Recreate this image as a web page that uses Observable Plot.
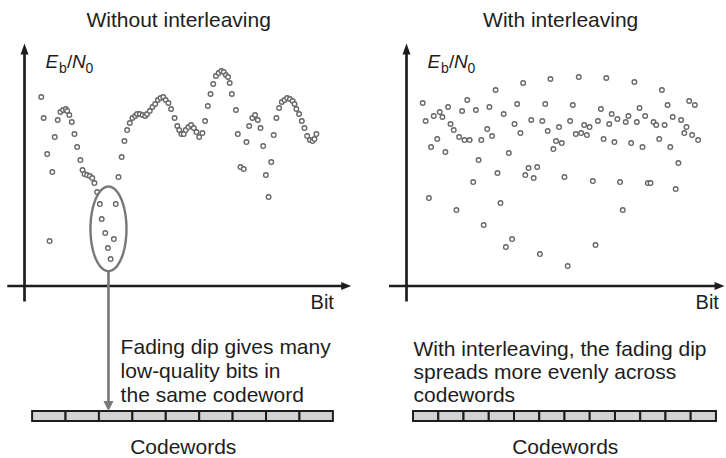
<!DOCTYPE html>
<html>
<head>
<meta charset="utf-8">
<script src="https://cdn.jsdelivr.net/npm/d3@7"></script>
<script src="https://cdn.jsdelivr.net/npm/@observablehq/plot@0.6"></script>
<style>
  html, body { margin: 0; padding: 0; background: #fff; }
  #chart { display: flex; width: 726px; height: 458px; overflow: hidden; }
  #chart svg { flex: none; }
</style>
</head>
<body>
<div id="chart"></div>
<script>
// ---------- data (bit position, Eb/N0 in arbitrary dB units) ----------
const leftBits = [6.2,7.1,8.4,9.3,10.3,11.2,12.3,13.3,14.3,15.3,15.8,16.6,17.5,18.5,19.5,20.7,21.5,22.2,23.2,24.2,25.1,25.9,26.9,27.9,28.6,29.9,30.9,31.9,33.1,33.8,34.8,36.0,37.0,38.0,39.0,40.0,41.0,41.7,42.7,43.7,44.7,45.4,46.4,47.4,48.4,49.4,50.4,51.4,52.3,53.3,54.3,55.6,56.6,57.3,58.1,59.0,59.7,60.7,61.7,62.7,63.7,64.7,65.9,66.9,67.9,68.9,69.9,70.9,71.9,72.9,73.8,74.6,75.4,76.0,76.8,78.3,79.0,80.0,81.2,82.2,83.2,84.4,85.4,86.4,87.4,88.4,89.4,90.4,91.4,92.3,93.3,94.3,95.3,96.3,97.3,98.3,99.3,100.0,100.7,101.7,102.7,103.7,104.7,105.7,106.7,107.4,108.1];
const leftEbN0 = [18.9,16.8,13.2,4.5,11.4,14.9,16.6,17.4,17.6,17.7,17.5,17.1,16.4,15.2,13.9,12.6,11.6,11.2,11.1,11.0,10.8,10.3,9.4,8.2,6.7,5.3,3.8,2.7,4.7,8.2,10.9,12.9,14.5,15.6,16.3,16.8,17.0,17.2,17.2,17.1,17.0,17.2,17.5,17.9,18.2,18.6,18.8,18.9,18.6,18.3,17.7,16.8,16.0,15.6,15.2,15.2,15.6,15.9,16.1,15.8,15.4,14.9,15.3,16.5,18.0,19.2,20.2,21.0,21.3,21.5,21.4,21.1,20.9,20.3,19.2,17.6,15.2,11.9,11.7,14.4,16.0,16.8,17.1,16.6,15.8,14.0,11.1,8.9,12.4,15.1,16.8,17.8,18.4,18.6,18.8,18.7,18.5,18.2,17.7,17.2,16.5,15.8,15.0,14.6,14.5,14.7,15.2];

const rightBits = [6.0,7.1,8.3,9.1,10.1,11.4,12.3,13.3,14.4,15.4,16.3,17.5,18.5,19.5,20.6,21.5,22.5,23.4,24.7,25.7,26.7,27.7,28.6,29.9,30.7,31.7,33.0,33.7,34.8,36.0,36.8,37.9,39.1,40.0,41.0,42.2,43.2,44.0,45.2,46.2,47.1,48.4,49.4,50.3,51.4,52.3,53.3,54.4,55.4,56.5,57.5,58.5,59.7,60.6,61.6,62.7,63.8,64.7,65.8,66.8,67.8,69.0,70.0,70.9,72.0,73.0,74.0,75.1,76.0,77.0,78.1,79.1,80.1,81.2,82.2,83.2,84.4,85.3,86.3,87.4,88.4,89.4,90.4,91.5,92.5,93.6,94.6,95.6,96.7,97.7,98.6,99.7,100.7,101.7,102.9,103.7,104.7,105.8,106.8,108.0];
const rightEbN0 = [18.3,16.5,8.8,13.9,17.0,14.7,17.4,16.9,13.4,17.9,16.2,15.6,7.6,14.9,17.5,14.6,18.6,14.6,10.4,17.6,12.6,14.6,6.1,15.7,17.9,15.0,19.6,11.3,8.3,17.2,3.9,13.3,4.7,16.2,18.2,15.3,20.3,11.1,11.8,16.6,10.8,11.9,3.2,16.5,18.2,15.5,20.7,13.7,14.5,15.9,14.3,10.9,2.0,16.5,18.1,15.2,20.9,15.3,16.1,15.1,15.9,10.5,4.1,16.5,17.7,14.7,20.8,16.2,17.2,14.4,16.7,10.4,7.6,16.4,17.0,14.3,20.4,16.4,17.8,13.9,17.0,10.3,10.3,16.4,16.1,14.7,19.6,16.1,18.1,13.9,16.9,9.7,12.3,16.6,15.3,15.9,18.5,15.1,18.1,14.6];

const panelTitles = ["Without interleaving", "With interleaving"];
const panelNotes = [
  "Fading dip gives many\nlow-quality bits in\nthe same codeword",
  "With interleaving, the fading dip\nspreads more evenly across\ncodewords"
];
const codewordCounts = [9, 12];
const codewordSpans = [[3.0, 114.4], [2.6, 114.8]];   // in bits
const xAxisLabel = "Bit";
const yAxisLabelParts = ["E", "b", "/", "N", "0"];
const codewordLabel = "Codewords";
// fading dip highlighted in the left panel (centre and half extents, in data units)
const dipRegion = {bit: 31.1, ebn0: 5.72, halfBits: 6.67, halfEbN0: 4.23};

// ---------- drawing ----------
const INK = "#1d1d1d";
const GRAY = "#777777";
const FONT = "'Liberation Sans', Arial, Helvetica, sans-serif";

function arrowHead(len, half) {
  return {draw(ctx) { ctx.moveTo(0, 0); ctx.lineTo(half, len); ctx.lineTo(-half, len); ctx.closePath(); }};
}

function panel(cfg) {
  const pts = cfg.bits.map((b, i) => ({bit: b, ebn0: cfg.values[i]}));
  const [c0, c1] = cfg.span;
  const w = (c1 - c0) / cfg.count;
  const cw = d3.range(cfg.count).map(k => ({x1: c0 + k * w, x2: c0 + (k + 1) * w, y1: -12.55, y2: -13.55}));
  const labelSub = [
    {t: yAxisLabelParts[0], dx: 21, dy: 0, fs: 19, st: "italic"},
    {t: yAxisLabelParts[1], dx: 34.5, dy: 5, fs: 14, st: "normal"},
    {t: yAxisLabelParts[2], dx: 42.5, dy: 0, fs: 19, st: "normal"},
    {t: yAxisLabelParts[3], dx: 47.5, dy: 0, fs: 19, st: "italic"},
    {t: yAxisLabelParts[4], dx: 61, dy: 5, fs: 14, st: "normal"}
  ];
  const marks = [
    // codewords
    Plot.rect(cw, {x1: "x1", x2: "x2", y1: "y1", y2: "y2", fill: "#d3d3d3", stroke: INK, strokeWidth: 2}),
    // axes
    Plot.ruleX([{x: 0, y1: -1.6, y2: 23.5}], {x: "x", y1: "y1", y2: "y2", stroke: INK, strokeWidth: 2.7}),
    Plot.dot([{x: 0, y: 24.25}], {x: "x", y: "y", symbol: arrowHead(11, 4), fill: INK, stroke: "none"}),
    Plot.ruleY([{y: 0, x1: cfg.axisStart, x2: cfg.axisEnd - 3}], {y: "y", x1: "x1", x2: "x2", stroke: INK, strokeWidth: 2.7}),
    Plot.dot([{x: cfg.axisEnd, y: 0}], {x: "x", y: "y", symbol: arrowHead(10, 4), rotate: 90, fill: INK, stroke: "none"}),
    // points
    Plot.dot(pts, {x: "bit", y: "ebn0", r: 2.3, stroke: "#666666", strokeWidth: 1.35, fill: "white"}),
    // title
    Plot.text([{x: 57.1, y: 25.95, t: cfg.title}], {x: "x", y: "y", text: "t", fontSize: 21, lineAnchor: "bottom", textAnchor: "middle", fill: INK}),
    // axis labels
    ...labelSub.map(p => Plot.text([{x: 0, y: 21.85, t: p.t}], {x: "x", y: "y", text: "t", dx: p.dx, dy: p.dy, fontSize: p.fs, fontStyle: p.st, textAnchor: "start", lineAnchor: "bottom", fill: INK})),
    Plot.text([{x: cfg.bitLabelX, y: -2.25, t: xAxisLabel}], {x: "x", y: "y", text: "t", fontSize: 20, textAnchor: "end", lineAnchor: "bottom", fill: INK}),
    // note and codeword label
    Plot.text([{x: cfg.noteX, y: cfg.noteY, t: cfg.note}], {x: "x", y: "y", text: "t", fontSize: 21, textAnchor: "start", lineAnchor: "bottom", lineHeight: cfg.noteLH, fill: INK}),
    Plot.text([{x: 58.8, y: -16.75, t: codewordLabel}], {x: "x", y: "y", text: "t", fontSize: 21, textAnchor: "middle", lineAnchor: "bottom", fill: INK})
  ];
  if (cfg.dip) {
    const d = cfg.dip;
    const ell = d3.range(0, 361, 5).map(a => ({
      x: d.bit + d.halfBits * Math.cos(a * Math.PI / 180),
      y: d.ebn0 + d.halfEbN0 * Math.sin(a * Math.PI / 180)
    }));
    marks.push(
      Plot.line(ell, {x: "x", y: "y", stroke: GRAY, strokeWidth: 2.4, curve: "linear"}),
      Plot.ruleX([{x: d.bit, y1: d.ebn0 - d.halfEbN0, y2: -11.6}], {x: "x", y1: "y1", y2: "y2", stroke: GRAY, strokeWidth: 2.6}),
      Plot.dot([{x: d.bit, y: -12.5}], {x: "x", y: "y", symbol: arrowHead(10, 5), rotate: 180, fill: GRAY, stroke: "none"})
    );
  }
  return Plot.plot({
    width: 363,
    height: 458,
    margin: 0,
    x: {domain: [0, 100], range: [cfg.x0, cfg.x0 + 270], axis: null},
    y: {domain: [0, 20], range: [285.5, 85.5], axis: null},
    style: {fontFamily: FONT, background: "white", overflow: "visible"},
    marks
  });
}

const chart = document.getElementById("chart");
chart.appendChild(panel({
  bits: leftBits, values: leftEbN0, title: panelTitles[0], note: panelNotes[0],
  count: codewordCounts[0], span: codewordSpans[0], dip: dipRegion,
  x0: 24, axisStart: -6.2, axisEnd: 121.0, bitLabelX: 114.6,
  noteX: 35.6, noteY: -11.62, noteLH: 1.15
}));
chart.appendChild(panel({
  bits: rightBits, values: rightEbN0, title: panelTitles[1], note: panelNotes[1],
  count: codewordCounts[1], span: codewordSpans[1], dip: null,
  x0: 43, axisStart: -6.3, axisEnd: 117.8, bitLabelX: 115.7,
  noteX: 2.6, noteY: -11.55, noteLH: 1.08
}));
</script>
</body>
</html>
